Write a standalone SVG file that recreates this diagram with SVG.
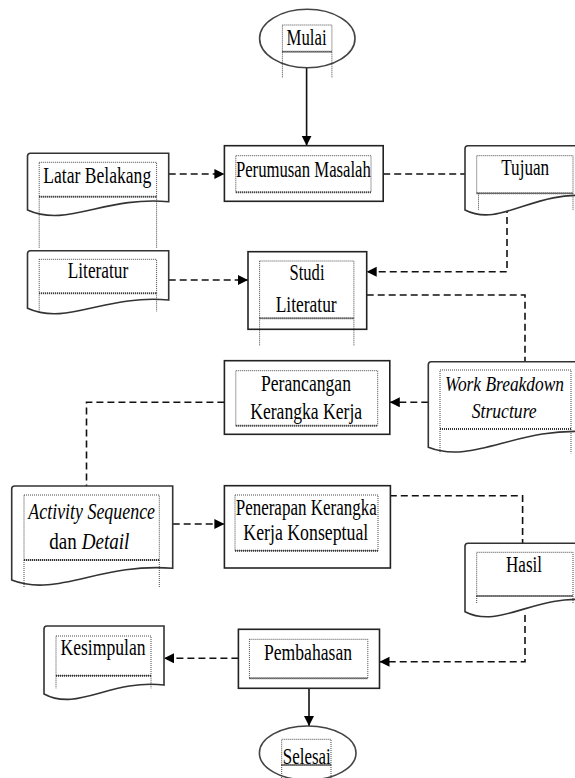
<svg xmlns="http://www.w3.org/2000/svg" width="575" height="778" viewBox="0 0 575 778">
<style>
.box{fill:#fff;stroke:#222;stroke-width:1.6}
.doc{fill:#fff;stroke:#333;stroke-width:1.6}
.dot{fill:none;stroke:#333;stroke-width:0.9;stroke-dasharray:1,1}
.dotb{fill:none;stroke:#333;stroke-width:2;stroke-dasharray:1,1}
.t{font-family:'Liberation Serif','Times New Roman','DejaVu Serif',serif;font-size:23px;fill:#000;text-anchor:middle}
.i{font-style:italic}
.sm{font-size:20px}
.solid{fill:none;stroke:#111;stroke-width:1.6}
.dash{fill:none;stroke:#111;stroke-width:1.6;stroke-dasharray:7,4}
</style>
<defs>
<marker id="ah" markerUnits="userSpaceOnUse" markerWidth="11" markerHeight="11" refX="10" refY="5" orient="auto">
<path d="M0,0 L10,5 L0,10 Z" fill="#000"/>
</marker>
</defs>
<rect width="575" height="778" fill="#fff"/>

<g id="connectors">
<path class="solid" d="M306.6,67.7 V145.7" marker-end="url(#ah)"/>
<path class="dash" d="M168.7,174 H224.4" marker-end="url(#ah)"/>
<path class="dash" d="M383.2,174 H465"/>
<path class="dash" d="M507,206 V271.7 H366.7" marker-end="url(#ah)"/>
<path class="dash" d="M168.7,280 H248" marker-end="url(#ah)"/>
<path class="dash" d="M366.7,295 H525 V361.7"/>
<path class="dash" d="M428.3,402.3 H389.8" marker-end="url(#ah)"/>
<path class="dash" d="M224.4,402.3 H86.5 V486"/>
<path class="dash" d="M172.7,524 H224.4" marker-end="url(#ah)"/>
<path class="dash" d="M389.8,495.7 H522.6 V543.3"/>
<path class="dash" d="M525,615 V661.7 H379.5" marker-end="url(#ah)"/>
<path class="dash" d="M238.4,658.3 H164" marker-end="url(#ah)"/>
<path class="solid" d="M309,688.3 V726" marker-end="url(#ah)"/>
</g>

<g id="mulai">
<ellipse cx="307.3" cy="38.5" rx="47.7" ry="29.2" fill="none" stroke="#444" stroke-width="1.6"/>
<rect class="dot" x="282.4" y="25" width="49.5" height="26.7"/>
<line class="dotb" x1="282.4" y1="51.7" x2="331.9" y2="51.7"/>
<line class="dot" x1="282.4" y1="51.7" x2="282.4" y2="78"/>
<line class="dot" x1="331.9" y1="51.7" x2="331.9" y2="78"/>
<text class="t" x="306.6" y="45" textLength="40" lengthAdjust="spacingAndGlyphs">Mulai</text>
</g>

<g id="perumusan">
<rect class="box" x="224.4" y="145.7" width="158.8" height="55.6"/>
<rect class="dot" x="235.8" y="155.7" width="135.2" height="36.6"/>
<line class="dotb" x1="235.8" y1="192.3" x2="371" y2="192.3"/>
<text class="t" x="303.4" y="176.7" textLength="135" lengthAdjust="spacingAndGlyphs">Perumusan Masalah</text>
</g>

<g id="latar">
<path class="doc" d="M27.5,210 V156.3 Q27.5,153.3 30.5,153.3 H168.7 V201.7 C105.2,195.7 67,228 27.5,210 Z"/>
<rect class="dot" x="39.2" y="162.3" width="117.4" height="34.4"/>
<line class="dotb" x1="39.2" y1="196.7" x2="156.6" y2="196.7"/>
<line class="dot" x1="39.2" y1="196.7" x2="39.2" y2="248.3"/>
<line class="dot" x1="156.6" y1="196.7" x2="156.6" y2="248.3"/>
<text class="t" x="97.2" y="183.3" textLength="108" lengthAdjust="spacingAndGlyphs">Latar Belakang</text>
</g>

<g id="tujuan">
<path class="doc" d="M465,210 V148.7 Q465,145.7 468,145.7 H590 V196 C533.75,190 500,228 465,210 Z"/>
<rect class="dot" x="476.7" y="155.7" width="96.3" height="37.6"/>
<line class="dotb" x1="476.7" y1="193.3" x2="573" y2="193.3"/>
<line class="dot" x1="478.5" y1="193.3" x2="478.5" y2="210"/>
<line class="dot" x1="573" y1="193.3" x2="573" y2="210"/>
<text class="t" x="525.2" y="175" textLength="48" lengthAdjust="spacingAndGlyphs">Tujuan</text>
</g>

<g id="literatur">
<path class="doc" d="M27.5,308.3 V253.7 Q27.5,250.7 30.5,250.7 H168.7 V300 C105.2,294 67,326.3 27.5,308.3 Z"/>
<rect class="dot" x="39.2" y="259.3" width="117.4" height="34"/>
<line class="dotb" x1="39.2" y1="293.3" x2="156.6" y2="293.3"/>
<line class="dot" x1="39.2" y1="293.3" x2="39.2" y2="311.7"/>
<line class="dot" x1="156.6" y1="293.3" x2="156.6" y2="311.7"/>
<text class="t" x="98" y="278.3" textLength="60.5" lengthAdjust="spacingAndGlyphs">Literatur</text>
</g>

<g id="studi">
<rect class="box" x="248" y="251.7" width="118.7" height="77.6"/>
<rect class="dot" x="259.6" y="261" width="94.3" height="57.3"/>
<line class="dotb" x1="259.6" y1="318.3" x2="353.9" y2="318.3"/>
<line class="dot" x1="259.6" y1="318.3" x2="259.6" y2="346"/>
<line class="dot" x1="353.9" y1="318.3" x2="353.9" y2="346"/>
<text class="t" x="307" y="280" textLength="35" lengthAdjust="spacingAndGlyphs">Studi</text>
<text class="t" x="306.2" y="311.7" textLength="61" lengthAdjust="spacingAndGlyphs">Literatur</text>
</g>

<g id="perancangan">
<rect class="box" x="224.4" y="360.7" width="165.4" height="73.6"/>
<rect class="dot" x="235.8" y="370.7" width="141.9" height="55"/>
<line class="dotb" x1="235.8" y1="425.7" x2="377.7" y2="425.7"/>
<text class="t" x="306" y="391" textLength="90" lengthAdjust="spacingAndGlyphs">Perancangan</text>
<text class="t" x="306.2" y="419.3" textLength="112" lengthAdjust="spacingAndGlyphs">Kerangka Kerja</text>
</g>

<g id="wbs">
<path class="doc" d="M428.3,447.3 V364.7 Q428.3,361.7 431.3,361.7 H590 V432 C517.2,426 473.6,465.3 428.3,447.3 Z"/>
<rect class="dot" x="440" y="370" width="131" height="59"/>
<line class="dotb" x1="440" y1="429" x2="571" y2="429"/>
<line class="dot" x1="440" y1="429" x2="440" y2="453.3"/>
<line class="dot" x1="571" y1="429" x2="571" y2="453.3"/>
<text class="t i sm" x="504.5" y="391" textLength="119" lengthAdjust="spacingAndGlyphs">Work Breakdown</text>
<text class="t i sm" x="504.2" y="418.3" textLength="65" lengthAdjust="spacingAndGlyphs">Structure</text>
</g>

<g id="activity">
<path class="doc" d="M11.7,580 V489 Q11.7,486 14.7,486 H172.7 V568.3 C100.25,562.3 56.8,598 11.7,580 Z"/>
<rect class="dot" x="24" y="495" width="135.3" height="65"/>
<line class="dotb" x1="24" y1="560" x2="159.3" y2="560"/>
<line class="dot" x1="24" y1="560" x2="24" y2="587"/>
<line class="dot" x1="159.3" y1="560" x2="159.3" y2="587"/>
<text class="t i" x="91.7" y="519" textLength="126.7" lengthAdjust="spacingAndGlyphs">Activity Sequence</text>
<text class="t" x="63" y="548.5" textLength="27.5" lengthAdjust="spacingAndGlyphs">dan</text>
<text class="t i" x="105.5" y="548.5" textLength="47.7" lengthAdjust="spacingAndGlyphs">Detail</text>
</g>

<g id="penerapan">
<rect class="box" x="224.4" y="485.7" width="166" height="82.3"/>
<rect class="dot" x="235" y="495" width="143" height="55.7"/>
<line class="dotb" x1="235" y1="550.7" x2="378" y2="550.7"/>
<text class="t" x="306.2" y="515" textLength="141" lengthAdjust="spacingAndGlyphs">Penerapan Kerangka</text>
<text class="t" x="305.8" y="540" textLength="125" lengthAdjust="spacingAndGlyphs">Kerja Konseptual</text>
</g>

<g id="hasil">
<path class="doc" d="M465,611.7 V546.3 Q465,543.3 468,543.3 H590 V600 C533.75,594 500,629.7 465,611.7 Z"/>
<rect class="dot" x="476.7" y="552.3" width="96.3" height="43.7"/>
<line class="dotb" x1="476.7" y1="596" x2="573" y2="596"/>
<line class="dot" x1="476.7" y1="596" x2="476.7" y2="603.3"/>
<line class="dot" x1="573" y1="596" x2="573" y2="603.3"/>
<text class="t" x="524" y="571.7" textLength="36" lengthAdjust="spacingAndGlyphs">Hasil</text>
</g>

<g id="pembahasan">
<rect class="box" x="238.4" y="629.3" width="141.1" height="59"/>
<rect class="dot" x="249.4" y="639.3" width="118.4" height="39"/>
<line class="dotb" x1="249.4" y1="678.3" x2="367.8" y2="678.3"/>
<text class="t" x="308" y="660" textLength="88" lengthAdjust="spacingAndGlyphs">Pembahasan</text>
</g>

<g id="kesimpulan">
<path class="doc" d="M44,694 V629 Q44,626 47,626 H164 V685 C110,679 77.6,712 44,694 Z"/>
<rect class="dot" x="56" y="636" width="95" height="39.7"/>
<line class="dotb" x1="56" y1="675.7" x2="151" y2="675.7"/>
<line class="dot" x1="56" y1="675.7" x2="56" y2="688.3"/>
<line class="dot" x1="151" y1="675.7" x2="151" y2="688.3"/>
<text class="t" x="103" y="655" textLength="85" lengthAdjust="spacingAndGlyphs">Kesimpulan</text>
</g>

<g id="selesai">
<ellipse cx="307.7" cy="753" rx="48.3" ry="27" fill="none" stroke="#444" stroke-width="1.6"/>
<rect class="dot" x="281.7" y="739.3" width="49.3" height="25.7"/>
<line class="dotb" x1="281.7" y1="765" x2="331" y2="765"/>
<line class="dot" x1="281.7" y1="765" x2="281.7" y2="778"/>
<line class="dot" x1="331" y1="765" x2="331" y2="778"/>
<text class="t" x="306.8" y="764" textLength="48" lengthAdjust="spacingAndGlyphs">Selesai</text>
</g>
</svg>
